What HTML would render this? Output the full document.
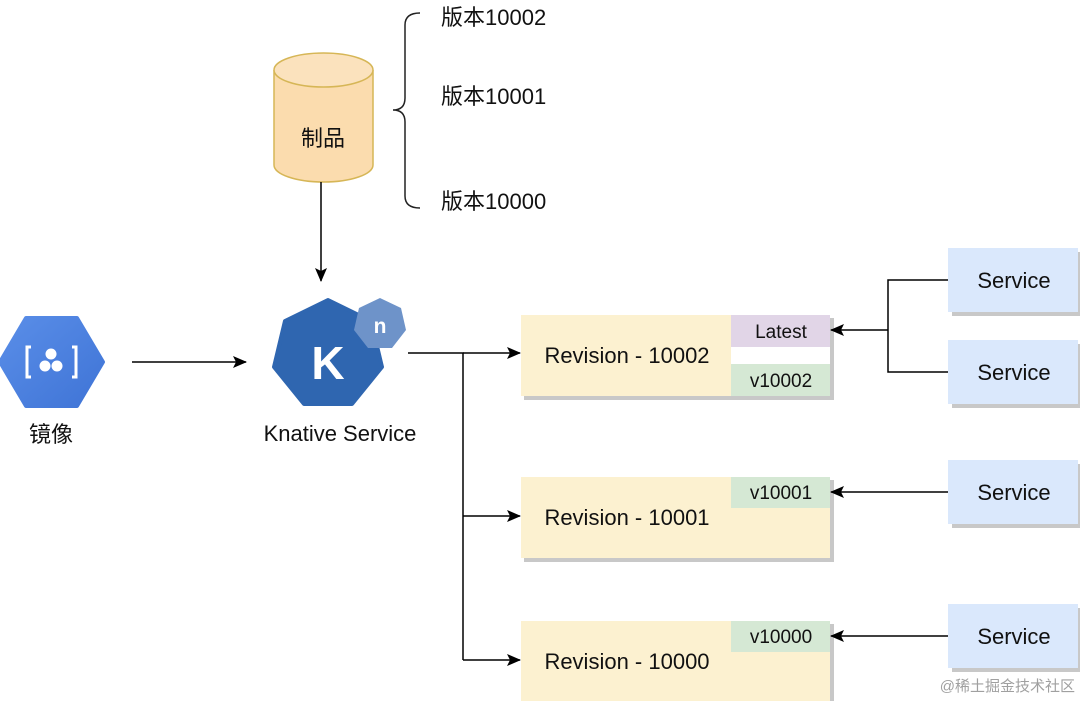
<!DOCTYPE html>
<html><head><meta charset="utf-8"><style>
html,body{margin:0;padding:0;background:#fff;}
svg text{font-family:"Liberation Sans","Noto Sans CJK SC",sans-serif;}
</style></head><body>
<svg width="1080" height="701" viewBox="0 0 1080 701" xmlns="http://www.w3.org/2000/svg">
<defs>
<marker id="a" markerWidth="14" markerHeight="12" refX="13" refY="6" orient="auto" markerUnits="userSpaceOnUse">
<path d="M0,0 L14,6 L0,12 L3,6 Z" fill="#000"/></marker>
<linearGradient id="hx" x1="0" y1="0" x2="1" y2="1"><stop offset="0" stop-color="#5a8ee8"/><stop offset="1" stop-color="#3f74d6"/></linearGradient>
</defs>
<path d="M274,70 L274,165 A49.5,17 0 0 0 373,165 L373,70" fill="#fbdcae" stroke="#d6b656" stroke-width="1.5"/>
<ellipse cx="323.5" cy="70" rx="49.5" ry="17" fill="#fbe2bd" stroke="#d6b656" stroke-width="1.5"/>
<text x="323" y="146" font-size="22" text-anchor="middle" fill="#111">制品</text>
<line x1="321" y1="182" x2="321" y2="281" stroke="#000" stroke-width="1.5" marker-end="url(#a)"/>
<path d="M420,13 Q405,13 405,25 L405,98 Q405,110 393,110 Q405,110 405,122 L405,196 Q405,208 420,208" fill="none" stroke="#222" stroke-width="1.5"/>
<text x="441" y="25" font-size="22" fill="#111">版本10002</text>
<text x="441" y="104" font-size="22" fill="#111">版本10001</text>
<text x="441" y="209" font-size="22" fill="#111">版本10000</text>
<polygon points="26,318 77,318 103,362 77,406 26,406 0,362" fill="url(#hx)" stroke="url(#hx)" stroke-width="4" stroke-linejoin="round"/>
<path d="M31,347 L27,347 L27,377 L31,377 M72,347 L76,347 L76,377 L72,377" fill="none" stroke="#fff" stroke-width="3"/>
<circle cx="51" cy="354" r="5.5" fill="#fff"/><circle cx="45" cy="366" r="5.5" fill="#fff"/><circle cx="57" cy="366" r="5.5" fill="#fff"/>
<text x="51" y="442" font-size="22" text-anchor="middle" fill="#111">镜像</text>
<line x1="132" y1="362" x2="246" y2="362" stroke="#000" stroke-width="1.5" marker-end="url(#a)"/>
<polygon points="328,300 371,321 382,367 352,404 304,404 274,367 285,321" fill="#2f66b0" stroke="#2f66b0" stroke-width="4" stroke-linejoin="round"/>
<text x="328" y="379" font-size="46" font-weight="bold" text-anchor="middle" fill="#fff">K</text>
<polygon points="380,298 401,308 406,330 392,348 368,348 354,330 359,308" fill="#6e93c9"/>
<text x="380" y="333" font-size="21" font-weight="bold" text-anchor="middle" fill="#fff">n</text>
<text x="340" y="441" font-size="22" text-anchor="middle" fill="#111">Knative Service</text>
<path d="M408,353 L463,353 L463,660" fill="none" stroke="#000" stroke-width="1.5"/>
<line x1="463" y1="353" x2="520" y2="353" stroke="#000" stroke-width="1.5" marker-end="url(#a)"/>
<line x1="463" y1="516" x2="520" y2="516" stroke="#000" stroke-width="1.5" marker-end="url(#a)"/>
<line x1="463" y1="660" x2="520" y2="660" stroke="#000" stroke-width="1.5" marker-end="url(#a)"/>
<g fill="#c8c8c8">
<rect x="524" y="318" width="310" height="82"/><rect x="524" y="480" width="310" height="82"/><rect x="524" y="624" width="310" height="81"/>
<rect x="952" y="252" width="130" height="64"/><rect x="952" y="344" width="130" height="64"/><rect x="952" y="464" width="130" height="64"/><rect x="952" y="608" width="130" height="64"/>
</g>
<g fill="#fcf1d0">
<rect x="521" y="315" width="210" height="81"/><rect x="521" y="477" width="210" height="81"/><rect x="521" y="621" width="210" height="80"/>
</g>
<rect x="731" y="315" width="99" height="32" fill="#e1d5e7"/>
<rect x="731" y="347" width="99" height="17" fill="#fff"/>
<rect x="731" y="364" width="99" height="32" fill="#d5e8d4"/>
<rect x="731" y="477" width="99" height="31" fill="#d5e8d4"/>
<rect x="731" y="508" width="99" height="50" fill="#fcf1d0"/>
<rect x="731" y="621" width="99" height="31" fill="#d5e8d4"/>
<rect x="731" y="652" width="99" height="49" fill="#fcf1d0"/>
<g font-size="22" fill="#111" text-anchor="middle">
<text x="627" y="363">Revision - 10002</text>
<text x="627" y="525">Revision - 10001</text>
<text x="627" y="669">Revision - 10000</text>
</g>
<g font-size="19" fill="#111" text-anchor="middle">
<text x="781" y="338">Latest</text>
<text x="781" y="387">v10002</text>
<text x="781" y="499">v10001</text>
<text x="781" y="643">v10000</text>
</g>
<g fill="#dae8fc">
<rect x="948" y="248" width="130" height="64"/><rect x="948" y="340" width="130" height="64"/><rect x="948" y="460" width="130" height="64"/><rect x="948" y="604" width="130" height="64"/>
</g>
<g font-size="22" fill="#111" text-anchor="middle">
<text x="1014" y="288">Service</text><text x="1014" y="380">Service</text><text x="1014" y="500">Service</text><text x="1014" y="644">Service</text>
</g>
<path d="M948,280 L888,280 L888,372 L948,372" fill="none" stroke="#000" stroke-width="1.5"/>
<line x1="888" y1="330" x2="831" y2="330" stroke="#000" stroke-width="1.5" marker-end="url(#a)"/>
<line x1="948" y1="492" x2="831" y2="492" stroke="#000" stroke-width="1.5" marker-end="url(#a)"/>
<line x1="948" y1="636" x2="831" y2="636" stroke="#000" stroke-width="1.5" marker-end="url(#a)"/>
<text x="1075" y="691" font-size="15" fill="#a0a0a0" text-anchor="end">@稀土掘金技术社区</text>
</svg>
</body></html>
